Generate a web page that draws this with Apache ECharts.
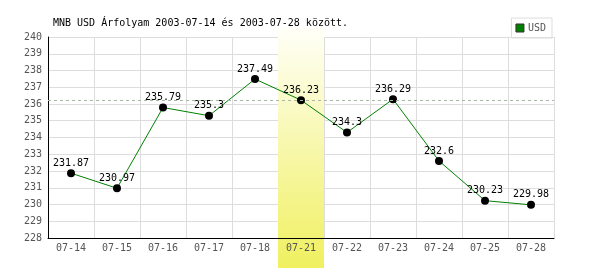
<!DOCTYPE html>
<html><head><meta charset="utf-8">
<script src="https://cdn.jsdelivr.net/npm/echarts@6/dist/echarts.min.js"></script>
<style>html,body{margin:0;padding:0;background:#fff}#c{width:600px;height:270px}</style>
</head><body><div id="c"></div>
<script>
const categories = ['07-14','07-15','07-16','07-17','07-18','07-21','07-22','07-23','07-24','07-25','07-28'];
const usdValues = [231.87,230.97,235.79,235.3,237.49,236.23,234.3,236.29,232.6,230.23,229.98];
const highlightIndex = 5;
const refValue = 236.23;
const yTicks = {min:228, max:240, interval:1};
const titleText = 'MNB USD Árfolyam 2003-07-14 és 2003-07-28 között.';
const seriesName = 'USD';

const FONT = '"DejaVu Sans Mono", monospace';
const chart = echarts.init(document.getElementById('c'), null, {renderer:'canvas'});
const option = {
  animation:false,
  title:{text:titleText, left:48, top:13, textStyle:{fontFamily:FONT, fontSize:10, fontWeight:'normal', color:'#000'}},
  legend:{right:48, top:18, data:[{name:seriesName, itemStyle:{color:'#008000', borderColor:'#333', borderWidth:1}}],
    icon:'rect', itemWidth:8, itemHeight:8, itemGap:4, borderColor:'#ddd', borderWidth:1, padding:[5,6,5,4],
    textStyle:{fontFamily:FONT, fontSize:10, color:'#555', padding:[0,0,0,-1]}},
  grid:{left:48, right:46, top:37, bottom:32},
  xAxis:[
    {type:'category', data:categories, boundaryGap:true, z:0,
     axisLine:{show:false}, axisTick:{show:false}, axisLabel:{show:false},
     splitLine:{show:true, lineStyle:{color:'#ddd', width:1}}},
    {type:'category', data:categories, boundaryGap:true, z:3, position:'bottom',
     axisLine:{show:true, lineStyle:{color:'#000', width:1}}, axisTick:{show:false},
     axisLabel:{fontFamily:FONT, fontSize:10, color:'#555', margin:5}, splitLine:{show:false}}
  ],
  yAxis:{type:'value', min:yTicks.min, max:yTicks.max, interval:yTicks.interval, z:0,
    axisLine:{show:true, lineStyle:{color:'#000', width:1}}, axisTick:{show:false},
    axisLabel:{fontFamily:FONT, fontSize:10, color:'#555', margin:6},
    splitLine:{show:true, lineStyle:{color:'#ddd', width:1}}},
  series:[{
    name:seriesName, type:'line', data:usdValues, xAxisIndex:0, z:2,
    symbol:'circle', symbolSize:8, showAllSymbol:true,
    lineStyle:{color:'#008000', width:1}, itemStyle:{color:'#000'},
    label:{show:true, position:'top', distance:1, fontFamily:FONT, fontSize:10, color:'#000'},
    markLine:{silent:true, symbol:['none','none'], label:{show:false},
      lineStyle:{color:'#a8b8a8', type:[3,3], width:1}, data:[{yAxis:refValue}]}
  }]
};
chart.setOption(option);
const cx = chart.convertToPixel({xAxisIndex:0}, highlightIndex);
const cx2 = chart.convertToPixel({xAxisIndex:0}, highlightIndex+1);
const bw = cx2 - cx;
const bandTop = chart.convertToPixel({yAxisIndex:0}, yTicks.max) - 9;
chart.setOption({graphic:[{type:'rect', z:1, silent:true,
  shape:{x:cx - bw/2, y:bandTop, width:bw, height:268 - bandTop},
  style:{fill:new echarts.graphic.LinearGradient(0,0,0,1,[{offset:0,color:'#fffff8'},{offset:1,color:'#f0f060'}])}}]});
</script></body></html>
